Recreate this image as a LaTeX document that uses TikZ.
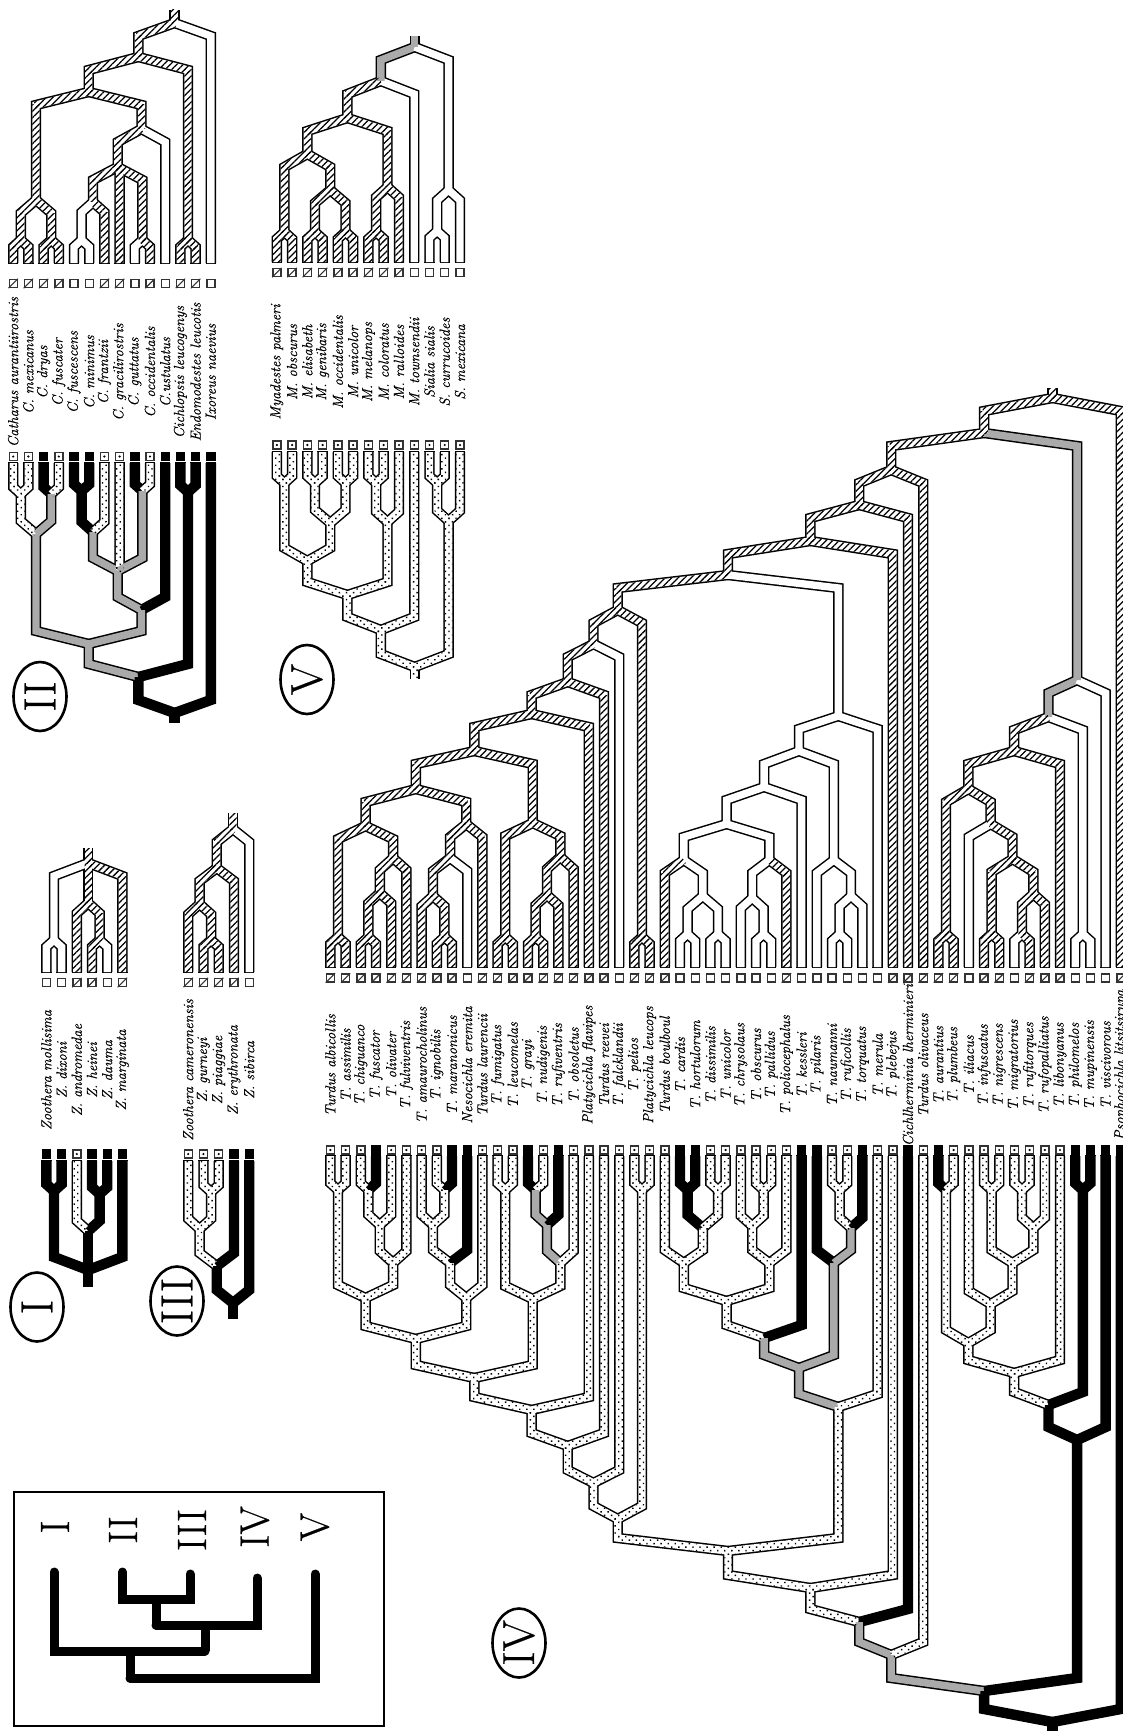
\documentclass[tikz,border=0pt]{standalone}
\usepackage{fontspec}
\newfontfamily\labfam{Latin Modern Roman}[AutoFakeBold=0.5,FakeBold=0.5]
\usetikzlibrary{shapes.geometric,patterns.meta}
\definecolor{midgray}{RGB}{170,170,170}
\colorlet{colw}{white}\colorlet{colh}{white}\colorlet{cold}{white}
\colorlet{colg}{midgray}\colorlet{colk}{black}
\tikzset{
  tubeout/.style={draw=black,line width=10.4pt,line join=miter,line cap=butt},
  tubein/.style={line width=7.4pt,line join=miter,line cap=butt},
  hatchfill/.style={pattern={Lines[angle=45,distance=4.6pt,line width=1.25pt]},pattern color=black},
  dotfill/.style={pattern={Dots[angle=45,distance=5pt,radius=1pt]},pattern color=black},
  tipbox/.style={draw=black!80,line width=1.4pt,fill=white,inner sep=0pt,minimum size=8pt},
  tipblack/.style={fill=black,inner sep=0pt,minimum size=9.4pt},
  boxline/.style={line width=1.1pt,black!80},
  lab/.style={rotate=90,inner sep=0pt,font=\labfam\itshape\fontsize{14.6}{16}\selectfont},
  numring/.style={draw,ellipse,line width=2.6pt,rotate=90,inner sep=0pt,minimum width=69pt,minimum height=53pt,font=\labfam\fontsize{45}{45}\selectfont},
  keylab/.style={rotate=90,inner sep=0pt,font=\labfam\fontsize{41}{41}\selectfont},
  keytree/.style={line width=9pt,line cap=round,line join=miter},
}
\newcount\stk \newcount\tipc
\def\Put#1#2#3{\expandafter\xdef\csname nx\the\stk\endcsname{#1}%
  \expandafter\xdef\csname ny\the\stk\endcsname{#2}%
  \expandafter\xdef\csname ns\the\stk\endcsname{#3}}
\def\Pat#1{%
  \fill[#1] (\ex-3.7,\ey)--(\ex+3.7,\ey)--(\ex+3.7,\ys)--(\ex-3.7,\ys)--cycle;
  \ifdim\hw pt>0.01pt
    \pgfmathsetmacro\ddx{\epx-\ex}\pgfmathsetmacro\ddy{\epy-\ys}
    \pgfmathsetmacro\len{veclen(\ddx,\ddy)}
    \pgfmathsetmacro\ux{\ddx/\len}\pgfmathsetmacro\uy{\ddy/\len}
    \pgfmathsetmacro\sx{\ex-1.2*\ux}\pgfmathsetmacro\sy{\ys-1.2*\uy}
    \pgfmathsetmacro\nx{-3.7*\uy}\pgfmathsetmacro\ny{3.7*\ux}
    \fill[#1] (\sx+\nx,\sy+\ny)--(\sx-\nx,\sy-\ny)--(\epx-\nx,\epy-\ny)--(\epx+\nx,\epy+\ny)--cycle;
  \fi}
\def\pzh{\Pat{hatchfill}}\def\pzd{\Pat{dotfill}}\def\pzw{}\def\pzg{}\def\pzk{}
\def\Edge#1#2#3{%
  \edef\ex{\csname nx#1\endcsname}\edef\ey{\csname ny#1\endcsname}\edef\es{\csname ns#1\endcsname}%
  \edef\epx{#2}\edef\epy{#3}%
  \pgfmathsetmacro\hw{abs(\ex-\epx)}%
  \pgfmathsetmacro\dd{min(13,0.9*\hw)}%
  \pgfmathsetmacro\ys{\epy+\sgn*\dd}%
  \ifcase\tmode
    \draw[tubeout] (\ex,\ey)--(\ex,\ys)--(\epx,\epy);
  \or
    \draw[tubein,draw=col\es] (\ex,\ey)--(\ex,\ys)--(\epx,\epy);
  \or
    \csname pz\es\endcsname
  \fi}
\def\boxh{\node[tipbox] (\tname\the\tipc) at (\cx,\tby) {};
  \draw[boxline] (\tname\the\tipc.south west)--(\tname\the\tipc.north east);}
\def\boxw{\node[tipbox] (\tname\the\tipc) at (\cx,\tby) {};}
\def\boxd{\node[tipbox] (\tname\the\tipc) at (\cx,\tby) {};
  \fill[black] (\tname\the\tipc.center) circle[radius=1.2pt];}
\def\boxk{\node[tipblack] (\tname\the\tipc) at (\cx,\tby) {};}
\newcommand\Tp[1]{\global\advance\stk 1\relax
  \pgfmathsetmacro\cx{\tx+\the\tipc*\tdx}%
  \Put{\cx}{\ty}{#1}%
  \ifnum\tmode=0 \draw[tubeout] (\cx,\ty)--(\cx,\ty+\sgn*1.3);\fi
  \ifnum\tmode=3 \csname box#1\endcsname\fi
  \global\advance\tipc 1\relax}
\newcommand\Jn[2]{%
  \edef\ia{\the\numexpr\stk-1\relax}\edef\ib{\the\stk}%
  \pgfmathsetmacro\px{(\csname nx\ia\endcsname+\csname nx\ib\endcsname)/2}%
  \edef\qx{\px}%
  \Edge{\ia}{\qx}{#1}\Edge{\ib}{\qx}{#1}%
  \global\advance\stk -1\relax \Put{\qx}{#1}{#2}}
\newcommand\Jt[2]{%
  \edef\ia{\the\numexpr\stk-2\relax}\edef\im{\the\numexpr\stk-1\relax}\edef\ib{\the\stk}%
  \pgfmathsetmacro\px{(\csname nx\ia\endcsname+\csname nx\ib\endcsname)/2}%
  \edef\qx{\px}%
  \Edge{\ia}{\qx}{#1}\Edge{\im}{\qx}{#1}\Edge{\ib}{\qx}{#1}%
  \global\advance\stk -2\relax \Put{\qx}{#1}{#2}}
\newcommand\Rt[1]{\edef\ib{\the\stk}\edef\qx{\csname nx\ib\endcsname}\Edge{\ib}{\qx}{#1}}
% name, first tip x, tip spacing, tube end y, direction, box y, body
\newcommand\Tree[7]{\def\tname{#1}\def\tx{#2}\def\tdx{#3}\def\ty{#4}\def\sgn{#5}\def\tby{#6}%
  \global\stk=0 \global\tipc=0 #7}
\def\Labels#1#2#3#4#5{\foreach \n [count=\i from 0] in {#5}{%
  \pgfmathsetmacro\lx{#2+\i*#3}\node[lab] (#1\i) at (\lx,#4) {\n};}}
\def\alltrees{%
% II upper
\Tree{IIu}{13.2}{15.2}{263}{1}{283.5}{%
 \Tp h\Tp h\Jn{240}h\Tp h\Tp h\Jn{240}h\Jn{200}h
 \Tp w\Tp w\Jn{240}w\Tp h\Jn{202}h\Tp h\Tp w\Tp h\Jn{240}h\Jt{167}h\Tp w\Jn{129}h
 \Jn{92}h\Tp h\Tp h\Jn{240}h\Jn{57}h\Tp w\Jn{23}h\Rt{10}}%
% II lower
\Tree{IIl}{13.2}{15.2}{463}{-1}{456.5}{%
 \Tp d\Tp d\Jn{494}d\Tp k\Tp d\Jn{494}g\Jn{534}g
 \Tp k\Tp k\Jn{491}k\Tp d\Jn{532}g\Tp d\Tp k\Tp d\Jn{491}g\Jt{571}g\Tp k\Jn{610}g
 \Jn{644}g\Tp k\Tp k\Jn{492}k\Jn{677}k\Tp k\Jn{713}k\Rt{723}}%
% V upper
\Tree{Vu}{276.8}{15.27}{262}{1}{272.5}{%
 \Tp h\Tp h\Jn{232}h\Tp h\Tp h\Jn{232}h\Tp h\Tp h\Jn{232}h\Jn{190}h\Jn{154}h
 \Tp h\Tp h\Jn{232}h\Tp h\Jn{187}h\Jn{118}h\Tp w\Jn{81}g
 \Tp w\Tp w\Jn{231}w\Tp w\Jn{190}w\Jn{47}g\Rt{36}}%
% V lower
\Tree{Vl}{276.8}{15.27}{452}{-1}{445}{%
 \Tp d\Tp d\Jn{483}d\Tp d\Tp d\Jn{483}d\Tp d\Tp d\Jn{483}d\Jn{523}d\Jn{561}d
 \Tp d\Tp d\Jn{483}d\Tp d\Jn{522}d\Jn{595}d\Tp d\Jn{630}d
 \Tp d\Tp d\Jn{483}d\Tp d\Jn{521}d\Jn{667}d\Rt{679}}%
% I upper, lower
\Tree{Iu}{46.4}{15.2}{972}{1}{982.5}{%
 \Tp w\Tp w\Jn{940}w\Tp h\Tp h\Tp w\Jn{940}h\Jn{903}h\Tp h\Jt{863}h\Rt{848}}%
\Tree{Il}{46.4}{15.2}{1161}{-1}{1154}{%
 \Tp k\Tp k\Jn{1191}k\Tp d\Tp k\Tp k\Jn{1194}k\Jn{1231}k\Tp k\Jt{1270}k\Rt{1287}}%
% III upper, lower
\Tree{IIIu}{188.2}{15.25}{972}{1}{982.5}{%
 \Tp h\Tp h\Tp h\Jn{940}h\Jn{904}h\Tp h\Jn{868}h\Tp w\Jn{829}h\Rt{813}}%
\Tree{IIIl}{188.2}{15.25}{1161}{-1}{1154}{%
 \Tp d\Tp d\Tp d\Jn{1192}d\Jn{1229}d\Tp k\Jn{1266}k\Tp k\Jn{1303}k\Rt{1319}}%
% IV upper
\Tree{IVu}{330.4}{15.2}{967}{1}{978}{%
 \Tp h\Tp h\Jn{937}h
 \Tp h\Tp h\Jn{937}h\Tp h\Jn{893}h\Tp h\Jn{858}h
 \Jn{826}h
 \Tp h\Tp h\Tp h\Jn{937}h\Jn{896}h\Tp w\Jn{858}h\Tp h\Jn{824}h
 \Jn{789}h
 \Tp h\Tp h\Jn{937}h\Tp h\Tp h\Jn{937}h\Tp h\Jn{895}h\Tp h\Jn{857}h\Jn{823}h
 \Jn{751}h
 \Tp h\Jn{714}h\Tp h\Jn{682}h\Tp w\Jn{644}h
 \Tp h\Tp h\Jn{937}h\Jn{610}h
 \Tp h\Tp w\Tp w\Jn{934}w\Tp w\Tp w\Jn{934}w\Jn{896}w\Jn{860}w
 \Tp w\Tp w\Tp w\Jn{934}w\Jn{898}w\Tp h\Jn{860}w
 \Jn{824}w\Tp w\Jn{787}w
 \Tp w\Tp w\Tp w\Jn{934}w\Tp w\Jn{896}w\Jn{860}w
 \Jn{751}w\Tp w\Jn{716}w
 \Jn{575}h
 \Tp h\Jn{541}h\Tp h\Jn{505}h\Tp h\Jn{470}h
 \Tp h\Tp h\Jn{934}h\Tp w\Tp h\Tp h\Jn{934}h\Tp w\Tp h\Jn{934}h\Tp h\Jn{894}h
 \Jn{859}h\Jn{824}h\Jn{789}h\Tp h\Jn{751}h\Tp w\Tp w\Jn{934}w\Jn{717}g\Tp w\Jn{680}g
 \Jn{433}h\Tp h\Jn{398}h\Rt{388}}%
% IV lower
\Tree{IVl}{330.4}{15.2}{1156}{-1}{1150}{%
 \Tp d\Tp d\Jn{1190}d
 \Tp d\Tp k\Jn{1190}d\Tp d\Jn{1225}d\Tp d\Jn{1263}d
 \Jn{1298}d
 \Tp d\Tp d\Tp k\Jn{1190}d\Jn{1225}d\Tp k\Jn{1263}d\Tp d\Jn{1298}d
 \Jn{1339}d
 \Tp d\Tp d\Jn{1190}d\Tp k\Tp d\Jn{1190}g\Tp k\Jn{1225}g\Tp d\Jn{1263}d\Jn{1299}d
 \Jn{1378}d
 \Tp d\Jn{1410}d\Tp d\Jn{1446}d\Tp d\Jn{1483}d
 \Tp d\Tp d\Jn{1190}d\Jn{1519}d
 \Tp d\Tp k\Tp k\Jn{1190}k\Tp d\Tp d\Jn{1190}d\Jn{1228}d\Jn{1263}d
 \Tp d\Tp d\Tp d\Jn{1190}d\Jn{1226}d\Tp d\Jn{1263}d
 \Jn{1301}d\Tp k\Jn{1338}g
 \Tp k\Tp d\Tp d\Jn{1190}d\Tp k\Jn{1228}g\Jn{1263}g
 \Jn{1368}g\Tp d\Jn{1407}d
 \Jn{1551}d
 \Tp d\Jn{1588}d\Tp k\Jn{1622}g\Tp d\Jn{1655}g
 \Tp k\Tp d\Jn{1190}d\Tp d\Tp d\Tp d\Jn{1190}d\Tp d\Tp d\Jn{1190}d\Tp d\Jn{1228}d
 \Jn{1263}d\Jn{1304}d\Jn{1343}d\Tp d\Jn{1373}d\Tp k\Tp k\Jn{1190}k\Jn{1405}k\Tp k\Jn{1440}k
 \Jn{1691}k\Tp k\Jn{1722}k\Rt{1735}}%
}
\begin{document}
\begin{tikzpicture}[x=1pt,y=-1pt]
\useasboundingbox (0,0) rectangle (1123,1731);
\def\tmode{0}\alltrees
\def\tmode{1}\alltrees
\def\tmode{2}\alltrees
\def\tmode{3}\alltrees
% labels
\Labels{lII}{13.2}{15.2}{372}{Catharus aurantiirostris,C. mexicanus,C. dryas,C. fuscater,C. fuscescens,C. minimus,C. frantzii,C. gracilirostris,C. guttatus,C. occidentalis,C.ustulatus,Cichlopsis leucogenys,Endomodestes leucotis,Ixoreus naevius}
\Labels{lV}{276.8}{15.27}{362}{Myadestes palmeri,M. obscurus,M. elisabeth,M. genibaris,M. occidentalis,M. unicolor,M. melanops,M. coloratus,M. ralloides,M. townsendii,Sialia sialis,S. currucoides,S. mexicana}
\Labels{lI}{46.4}{15.2}{1070}{Zoothera mollisima,Z. dixoni,Z. andromedae,Z. heinei,Z. dauma,Z. marginata}
\Labels{lIII}{188.2}{15.25}{1070}{Zoothera cameronensis,Z. gurneyi,Z. piaggiae,Z. erythronata,Z. sibirca}
\Labels{lIV}{330.4}{15.2}{1065}{Turdus albicollis,T. assimilis,T. chiguanco,T. fuscator,T. olivater,T. fulviventris,T. amaurocholinus,T. ignobilis,T. maranonicus,Nesocichla eremita,Turdus laurencii,T. fumigatus,T. leucomelas,T. grayi,T. nudigenis,T. rufiventris,T. obsoletus,Platycichla flavipes,Turdus reevei,T. falcklandii,T. pelios,Platycichla leucops,Turdus boulboul,T. cardis,T. hortulorum,T. dissimilis,T. unicolor,T. chrysolaus,T. obscurus,T. pallidus,T. poliocephalus,T. kessleri,T. pilaris,T. naumanni,T. ruficollis,T. torquatus,T. merula,T. plebejus,Cichlherminia lherminieri,Turdus olivaceus,T. aurantius,T. plumbeus,T. iliacus,T. infuscatus,T. nigrescens,T. migratorius,T. rufitorques,T. rufopalliatus,T. libonyanus,T. philomelos,T. mupinensis,T. viscivorous,Psophocichla litsitsirupa}
% clade rings
\node[numring] (ringI) at (37,1307) {I};
\node[numring] (ringII) at (40,696.5) {II};
\node[numring] (ringIII) at (177,1301) {III};
\node[numring] (ringIV) at (519,1643) {IV};
\node[numring] (ringV) at (307,679.5) {V};
% key
\draw[line width=2.8pt] (14,1492) rectangle (384,1726);
\node[keylab] (kI) at (55,1527) {I};
\node[keylab] (kII) at (123,1530) {II};
\node[keylab] (kIII) at (192,1530) {III};
\node[keylab] (kIV) at (255,1527) {IV};
\node[keylab] (kV) at (315,1527) {V};
\coordinate (tI) at (54,1572);
\coordinate (tII) at (122.5,1572);
\coordinate (tIII) at (190,1574);
\coordinate (tIV) at (257,1578);
\coordinate (tV) at (315,1574);
\coordinate (a1) at (156,1599);
\coordinate (a2) at (205,1625);
\coordinate (a3) at (130,1651);
\draw[keytree] (tII) |- (a1) -| (tIII);
\draw[keytree,line cap=butt] (a1) -- (a1 |- a2);
\draw[keytree] (a1 |- a2) -| (tIV);
\draw[keytree,line cap=butt] (a2) -- (a2 |- a3);
\draw[keytree] (tI) |- (a2 |- a3);
\draw[keytree,line cap=butt] (a3) -- (130,1678);
\draw[keytree] (130,1678) -| (tV);
\end{tikzpicture}
\end{document}
